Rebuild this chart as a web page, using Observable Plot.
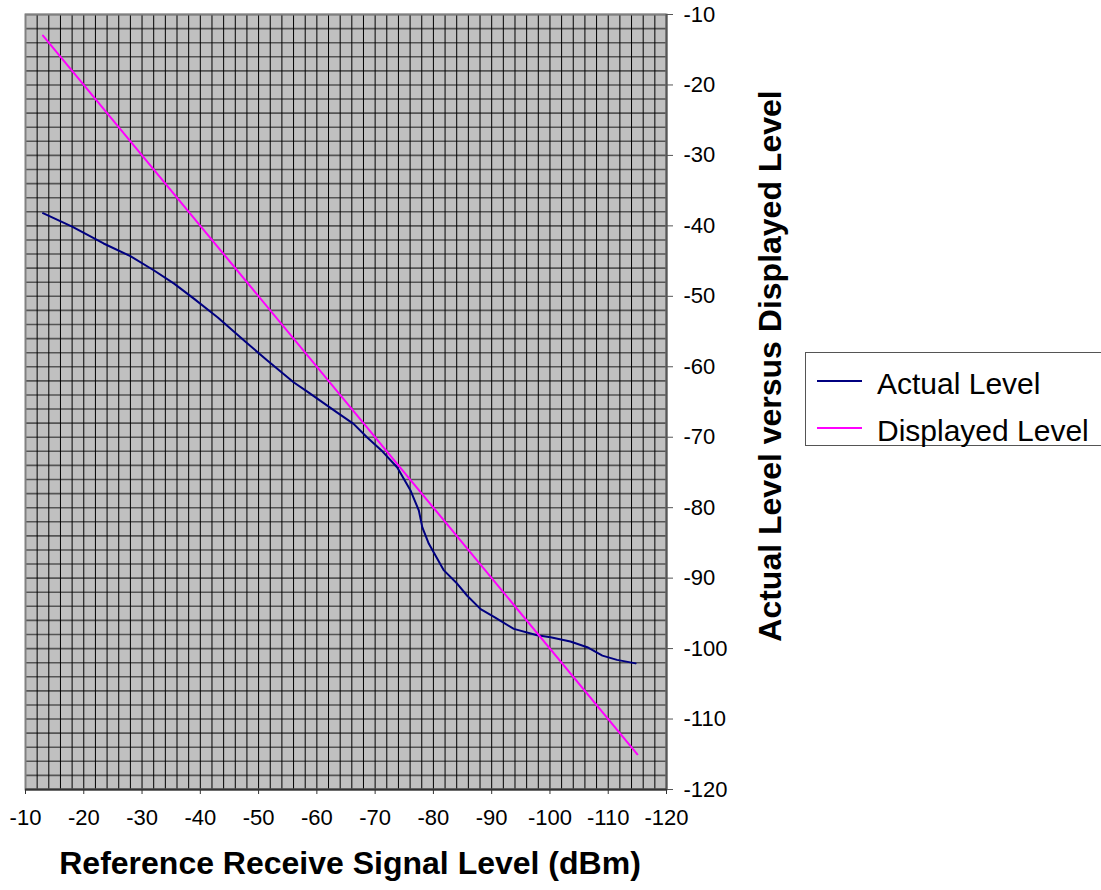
<!DOCTYPE html>
<html>
<head>
<meta charset="utf-8">
<script src="https://cdn.jsdelivr.net/npm/d3@7"></script>
<script src="https://cdn.jsdelivr.net/npm/@observablehq/plot@0.6"></script>
<style>
  html, body { margin: 0; padding: 0; background: #fff; }
  #chart { position: relative; width: 1101px; height: 890px; }
  svg { font-family: "Liberation Sans", Arial, sans-serif; }
</style>
</head>
<body>
<div id="chart"></div>
<script>
// Actual Level series
const actualRef = [-13, -18, -23.4, -28, -32, -35.5, -39, -43, -47.8, -51.5, -56, -58.3, -63.5, -66.3, -68.6, -71, -73.8, -76.1, -77.5, -78.1, -79.2, -81.8, -84.1, -85.8, -88.1, -90.4, -93.8, -97.8, -100.1, -103.5, -106.4, -109, -111.5, -114.7];
const actualLevel = [-38.2, -40.1, -42.5, -44.3, -46.3, -48.2, -50.4, -53, -56.5, -59.1, -62.2, -63.5, -66.5, -68.1, -70, -71.8, -74.3, -77.6, -80.4, -82.8, -85.1, -88.9, -90.8, -92.5, -94.4, -95.5, -97.2, -98.1, -98.4, -99.0, -99.8, -101, -101.6, -102.1];
// Displayed Level series
const displayedRef = [-13, -115];
const displayedLevel = [-13, -115];

const xTicks = [-10, -20, -30, -40, -50, -60, -70, -80, -90, -100, -110, -120];
const yTicks = [-10, -20, -30, -40, -50, -60, -70, -80, -90, -100, -110, -120];
const gridLines = d3.range(-10, -121, -2);

const seriesNames = ["Actual Level", "Displayed Level"];
const seriesColors = ["#000080", "#FF00FF"];
const xTitle = "Reference Receive Signal Level (dBm)";
const yTitle = "Actual Level versus Displayed Level";

const actual = actualRef.map((x, i) => ({x, y: actualLevel[i]}));
const displayed = displayedRef.map((x, i) => ({x, y: displayedLevel[i]}));

const font = "'Liberation Sans', Arial, sans-serif";

const plot = Plot.plot({
  width: 1101,
  height: 890,
  marginLeft: 25,
  marginRight: 435,
  marginTop: 14,
  marginBottom: 101,
  style: {fontFamily: font, background: "#fff", overflow: "visible"},
  x: {domain: [-10, -120], label: null},
  y: {domain: [-120, -10], label: null},
  marks: [
    Plot.frame({fill: "#C0C0C0", stroke: "none"}),
    Plot.ruleY(gridLines, {stroke: "#555", strokeWidth: 1.6}),
    Plot.ruleX(gridLines, {stroke: "#000", strokeWidth: 1}),
    Plot.frame({stroke: "#808080", strokeWidth: 2}),
    Plot.ruleX([-120], {stroke: "#555", strokeWidth: 2}),
    Plot.ruleY([-120], {stroke: "#333", strokeWidth: 2}),
    Plot.axisX(xTicks, {anchor: "bottom", tickSize: 5, tickPadding: 15, fontSize: 22, stroke: "#333", tickFormat: d => String(d), label: null}),
    Plot.axisY(yTicks, {anchor: "right", tickSize: 6, tickPadding: 11, fontSize: 22, stroke: "#555", tickFormat: d => String(d), label: null}),
    Plot.line(actual, {x: "x", y: "y", stroke: seriesColors[0], strokeWidth: 2}),
    Plot.line(displayed, {x: "x", y: "y", stroke: seriesColors[1], strokeWidth: 2}),
    Plot.text([xTitle], {frameAnchor: "bottom", dy: 74, dx: 4, text: d => d, fontSize: 32, fontWeight: "bold", textAnchor: "middle", lineAnchor: "middle", fill: "#000"}),
    Plot.text([yTitle], {frameAnchor: "right", dx: 104, dy: -36, text: d => d, fontSize: 32, fontWeight: "bold", textAnchor: "middle", lineAnchor: "middle", rotate: -90, fill: "#000"})
  ]
});

document.getElementById("chart").appendChild(plot);

// Legend
const svg = d3.select(plot);
const lg = svg.append("g").attr("font-family", font).attr("text-anchor", "start");
lg.append("rect").attr("x", 805.5).attr("y", 352.5).attr("width", 310).attr("height", 93)
  .attr("fill", "#fff").attr("stroke", "#555").attr("stroke-width", 1);
seriesNames.forEach((name, i) => {
  const cy = 381 + i * 47;
  lg.append("line").attr("x1", 817).attr("x2", 862).attr("y1", cy).attr("y2", cy)
    .attr("stroke", seriesColors[i]).attr("stroke-width", 2);
  lg.append("text").attr("x", 877).attr("y", cy + 13).attr("font-size", 30)
    .attr("text-anchor", "start").attr("fill", "#000").text(name);
});
</script>
</body>
</html>
